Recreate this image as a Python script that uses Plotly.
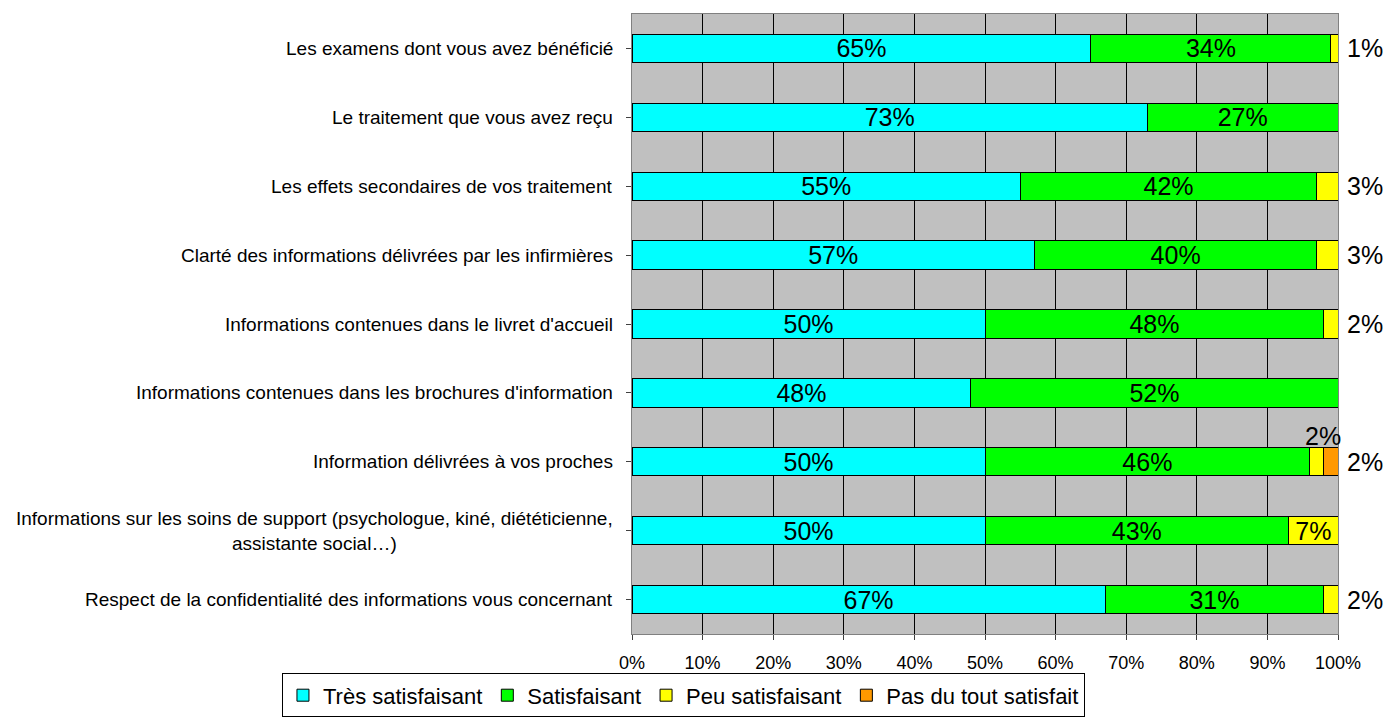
import plotly.graph_objects as go

categories = [
    "Les examens dont vous avez bénéficié",
    "Le traitement que vous avez reçu",
    "Les effets secondaires de vos traitement",
    "Clarté des informations délivrées par les infirmières",
    "Informations contenues dans le livret d'accueil",
    "Informations contenues dans les brochures d'information",
    "Information délivrées à vos proches",
    "Informations sur les soins de support (psychologue, kiné, diététicienne,<br>assistante social…)",
    "Respect de la confidentialité des informations vous concernant",
]
tres_satisfaisant = [65, 73, 55, 57, 50, 48, 50, 50, 67]
satisfaisant = [34, 27, 42, 40, 48, 52, 46, 43, 31]
peu_satisfaisant = [1, 0, 3, 3, 2, 0, 2, 7, 2]
pas_du_tout = [0, 0, 0, 0, 0, 0, 2, 0, 0]

series = [
    ("Très satisfaisant", tres_satisfaisant, "#00FFFF"),
    ("Satisfaisant", satisfaisant, "#00FF00"),
    ("Peu satisfaisant", peu_satisfaisant, "#FFFF00"),
    ("Pas du tout satisfait", pas_du_tout, "#FF9900"),
]

FONT = "Liberation Sans, Arial, sans-serif"
ids = list(range(len(categories)))
VAL_SIZE = 25

fig = go.Figure()
for name, vals, color in series:
    txt = [f"{v}%" if v >= 5 else "" for v in vals]
    fig.add_trace(go.Bar(
        name=name, y=ids, x=vals, orientation="h",
        marker=dict(color=color, line=dict(color="black", width=1)),
        text=txt, textposition="inside", insidetextanchor="middle",
        textfont=dict(family=FONT, size=VAL_SIZE, color="black"),
        constraintext="none", width=0.41,
    ))

annotations = []
# category labels
for i, c in enumerate(categories):
    annotations.append(dict(
        x=0, xref="paper", y=i, yref="y", text=c, showarrow=False,
        xanchor="right", align="center", xshift=-17,
        font=dict(family=FONT, size=19, color="black"),
    ))
# small values outside
for i in ids:
    small = [vals[i] for name, vals, _ in series[2:] if 0 < vals[i] < 5]
    if len(small) == 1:
        annotations.append(dict(
            x=100, y=i, xref="x", yref="y", text=f"{small[0]}%", showarrow=False,
            xanchor="left", xshift=7, font=dict(family=FONT, size=VAL_SIZE, color="black"),
        ))
    elif len(small) == 2:
        xc = tres_satisfaisant[i] + satisfaisant[i] + peu_satisfaisant[i] / 2
        annotations.append(dict(
            x=xc, y=i, xref="x", yref="y", text=f"{small[0]}%", showarrow=False,
            xanchor="center", yanchor="bottom", yshift=10, xshift=6,
            font=dict(family=FONT, size=VAL_SIZE, color="black"),
        ))
        annotations.append(dict(
            x=100, y=i, xref="x", yref="y", text=f"{small[1]}%", showarrow=False,
            xanchor="left", xshift=7, font=dict(family=FONT, size=VAL_SIZE, color="black"),
        ))

fig.update_layout(
    barmode="stack",
    width=1388, height=718,
    margin=dict(l=632, r=50, t=14, b=84, autoexpand=False),
    paper_bgcolor="white", plot_bgcolor="#C0C0C0",
    font=dict(family=FONT, color="black"),
    legend=dict(
        orientation="h", xref="paper", x=-0.4958, xanchor="left",
        yref="paper", y=-0.1345, yanchor="bottom",
        bordercolor="black", borderwidth=1, bgcolor="white",
        font=dict(family=FONT, size=22), traceorder="normal",
        itemwidth=30,
    ),
    annotations=annotations,
    showlegend=True,
)
fig.update_xaxes(
    range=[0, 100], dtick=10, ticksuffix="%", showgrid=True, gridcolor="black", gridwidth=1,
    ticks="outside", ticklen=5, tickcolor="#404040", showline=True, linecolor="#808080",
    mirror=True, tickfont=dict(family=FONT, size=18, color="black"), zeroline=False,
    ticklabelstandoff=7,
)
fig.update_yaxes(
    range=[len(categories) - 0.5, -0.5], tickmode="array", tickvals=ids,
    showticklabels=False, ticks="outside", ticklen=5, tickcolor="#404040",
    tickson="boundaries", showgrid=False, showline=True, linecolor="#808080", mirror=True,
    zeroline=False,
)

fig.write_html(
    "out.html",
    config={"displayModeBar": False},
    post_script="document.body.style.margin='0';document.body.style.overflow='hidden';",
)
